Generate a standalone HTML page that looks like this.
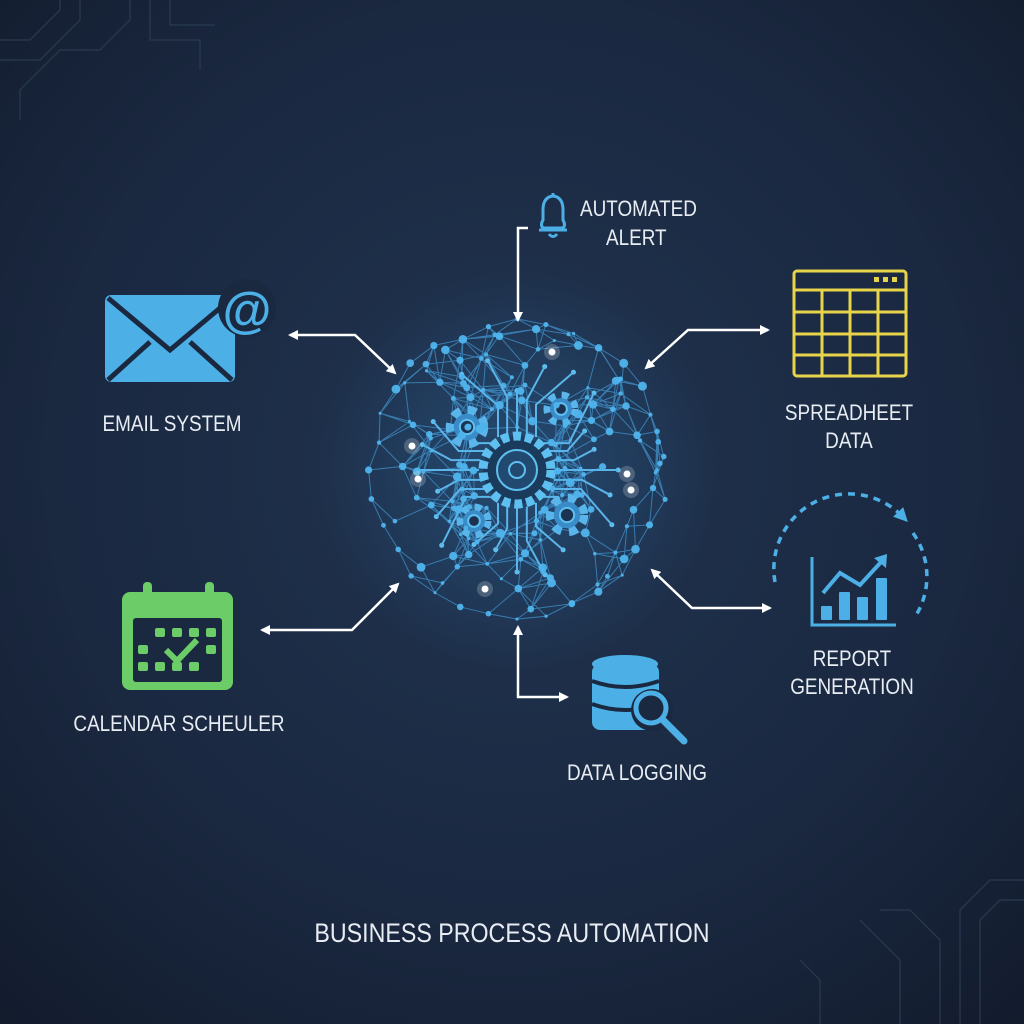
<!DOCTYPE html>
<html><head><meta charset="utf-8">
<style>
html,body{margin:0;padding:0;width:1024px;height:1024px;overflow:hidden;background:#16213a}
svg{display:block}
text{font-family:"Liberation Sans",sans-serif;fill:#e8edf3}
</style></head><body>
<svg id="s" width="1024" height="1024" viewBox="0 0 1024 1024" xmlns="http://www.w3.org/2000/svg">
<defs>
<radialGradient id="bg" cx="50%" cy="45%" r="75%">
<stop offset="0" stop-color="#213450"/>
<stop offset="0.6" stop-color="#1a2840"/>
<stop offset="1" stop-color="#121b2c"/>
</radialGradient>
<radialGradient id="glow" cx="50%" cy="50%" r="50%">
<stop offset="0" stop-color="#2a6fa8" stop-opacity="0.4"/>
<stop offset="1" stop-color="#2a6fa8" stop-opacity="0"/>
</radialGradient>
<marker id="ah" viewBox="0 0 10 10" refX="8" refY="5" markerWidth="4" markerHeight="4" orient="auto-start-reverse">
<path d="M0,0 L10,5 L0,10 z" fill="#fff"/>
</marker>
<marker id="bh" viewBox="0 0 10 10" refX="5" refY="5" markerWidth="4" markerHeight="4" orient="auto">
<path d="M0,0 L10,5 L0,10 z" fill="#4cb0e6"/>
</marker>
</defs>
<rect width="1024" height="1024" fill="url(#bg)"/>
<circle cx="517" cy="470" r="200" fill="url(#glow)"/>
<g stroke="#2b3c52" stroke-width="1.5" fill="none" opacity="0.8">
<path d="M0,40 L30,40 L60,10 L60,0 M0,60 L40,60 L80,20 L80,0 M20,120 L20,90 L60,50 L100,50 L130,20 L130,0 M150,0 L150,40 L200,40 L200,70 M170,0 L170,25 L215,25"/>
<path d="M1024,880 L990,880 L960,910 L960,1024 M1024,900 L1000,900 L980,920 L980,1024 M940,1024 L940,940 L910,910 L880,910 M900,1024 L900,960 L860,920 M820,1024 L820,980 L800,960"/>
</g>
<g id="net"></g>
<g stroke="#fff" stroke-width="2.5" fill="none">
<path d="M290,335 L355,335 L395,373" marker-start="url(#ah)" marker-end="url(#ah)"/>
<path d="M528,228 L518,228 L518,320" marker-end="url(#ah)"/>
<path d="M768,330 L688,330 L646,368" marker-start="url(#ah)" marker-end="url(#ah)"/>
<path d="M262,630 L352,630 L398,584" marker-start="url(#ah)" marker-end="url(#ah)"/>
<path d="M518,627 L518,697 L567,697" marker-start="url(#ah)" marker-end="url(#ah)"/>
<path d="M652,570 L692,608 L770,608" marker-start="url(#ah)" marker-end="url(#ah)"/>
</g>
<g>
<rect x="105" y="295" width="130" height="87" rx="6" fill="#4cb0e6"/>
<path d="M108,298 L170,350 L232,298" stroke="#1a2840" stroke-width="5" fill="none"/>
<path d="M108,380 L150,342 M232,380 L190,342" stroke="#1a2840" stroke-width="5"/>
<circle cx="247" cy="308" r="29" fill="#1a2840"/>
<text x="247" y="327" font-size="50" text-anchor="middle" style="fill:#4cb0e6;font-weight:bold">@</text>
</g>
<text x="172" y="431" font-size="22" text-anchor="middle" transform="translate(172 0) scale(0.86 1) translate(-172 0)">EMAIL SYSTEM</text>
<g fill="#6ccc68">
<rect x="122" y="592" width="111" height="98" rx="8"/>
<rect x="133" y="618" width="89" height="64" rx="3" fill="#1a2840"/>
<rect x="143" y="582" width="9" height="22" rx="4"/><rect x="205" y="582" width="9" height="22" rx="4"/>
<rect x="155" y="628" width="10" height="9" rx="2"/><rect x="172" y="628" width="10" height="9" rx="2"/><rect x="189" y="628" width="10" height="9" rx="2"/><rect x="206" y="628" width="10" height="9" rx="2"/>
<rect x="138" y="645" width="10" height="9" rx="2"/><rect x="206" y="645" width="10" height="9" rx="2"/>
<rect x="138" y="662" width="10" height="9" rx="2"/><rect x="155" y="662" width="10" height="9" rx="2"/><rect x="172" y="662" width="10" height="9" rx="2"/><rect x="189" y="662" width="10" height="9" rx="2"/>
<path d="M166,650 L177,661 L197,640" stroke="#6ccc68" stroke-width="6" fill="none"/>
</g>
<text x="179" y="731" font-size="22" text-anchor="middle" transform="translate(179 0) scale(0.86 1) translate(-179 0)">CALENDAR SCHEULER</text>
<g stroke="#4cb0e6" stroke-width="3" fill="none">
<path d="M543,228 Q540,225 543,220 L543,210 Q543,197 553,196 Q563,197 563,210 L563,220 Q566,225 563,228 Z"/>
<path d="M539,230 L567,230"/><path d="M549,234 Q553,239 557,234"/><path d="M553,193 L553,196"/>
</g>
<text x="580" y="216" font-size="22" transform="translate(580 0) scale(0.86 1) translate(-580 0)">AUTOMATED</text>
<text x="606" y="245" font-size="22" transform="translate(606 0) scale(0.86 1) translate(-606 0)">ALERT</text>
<g stroke="#e8d44a" stroke-width="3" fill="none">
<rect x="794" y="271" width="112" height="105" rx="3"/>
<path d="M794,290 L906,290 M794,312 L906,312 M794,334 L906,334 M794,355 L906,355 M822,290 L822,376 M850,290 L850,376 M878,290 L878,376"/>
</g>
<g fill="#e8d44a"><rect x="874" y="277" width="5" height="5"/><rect x="883" y="277" width="5" height="5"/><rect x="892" y="277" width="5" height="5"/></g>
<text x="849" y="420" font-size="22" text-anchor="middle" transform="translate(849 0) scale(0.86 1) translate(-849 0)">SPREADHEET</text>
<text x="849" y="448" font-size="22" text-anchor="middle" transform="translate(849 0) scale(0.86 1) translate(-849 0)">DATA</text>
<g>
<path d="M775,582 A75,75 0 0 1 903,517" stroke="#4cb0e6" stroke-width="3.5" stroke-dasharray="7,6" fill="none" marker-end="url(#bh)"/>
<path d="M913,533 A75,75 0 0 1 915,617" stroke="#4cb0e6" stroke-width="3.5" stroke-dasharray="7,6" fill="none"/>
<path d="M812,557 L812,625 L896,625" stroke="#4cb0e6" stroke-width="3" fill="none"/>
<g fill="#4cb0e6"><rect x="821" y="606" width="11" height="14" rx="1"/><rect x="839" y="592" width="11" height="28" rx="1"/><rect x="857" y="597" width="11" height="23" rx="1"/><rect x="876" y="578" width="11" height="42" rx="1"/></g>
<path d="M823,593 L840,573 L860,585 L882,561" stroke="#4cb0e6" stroke-width="4" fill="none"/>
<path d="M874,558 L887,554 L886,568 z" fill="#4cb0e6"/>
</g>
<text x="852" y="666" font-size="22" text-anchor="middle" transform="translate(852 0) scale(0.86 1) translate(-852 0)">REPORT</text>
<text x="852" y="694" font-size="22" text-anchor="middle" transform="translate(852 0) scale(0.86 1) translate(-852 0)">GENERATION</text>
<g fill="#4cb0e6">
<rect x="592" y="664" width="67" height="66" rx="8"/>
<ellipse cx="625" cy="664" rx="33" ry="9"/>
<path d="M592,681 Q625,693 659,681 M592,704 Q625,716 659,704" stroke="#1a2840" stroke-width="4" fill="none"/>
<circle cx="652" cy="710" r="21" fill="#1a2840"/>
<circle cx="651" cy="708" r="15" fill="#1a2840" stroke="#4cb0e6" stroke-width="5"/>
<path d="M663,720 L684,741" stroke="#4cb0e6" stroke-width="7" stroke-linecap="round"/>
</g>
<text x="637" y="780" font-size="22" text-anchor="middle" transform="translate(637 0) scale(0.86 1) translate(-637 0)">DATA LOGGING</text>
<text x="512" y="942" font-size="27" text-anchor="middle" transform="translate(512 0) scale(0.86 1) translate(-512 0)">BUSINESS PROCESS AUTOMATION</text>
</svg>
<script>
(function(){
var ns="http://www.w3.org/2000/svg",g=document.getElementById("net");
var seed=7;function r(){seed=(seed*16807)%2147483647;return (seed-1)/2147483646;}
function el(n,a){var e=document.createElementNS(ns,n);for(var k in a)e.setAttribute(k,a[k]);g.appendChild(e);return e;}
var cx=517,cy=470,pts=[];
for(var i=0;i<32;i++){var a=i/32*Math.PI*2,R=140+r()*12;pts.push([cx+Math.cos(a)*R,cy+Math.sin(a)*R]);}
for(var i=0;i<140;i++){var a=r()*Math.PI*2,R=40+r()*108;pts.push([cx+Math.cos(a)*R,cy+Math.sin(a)*R]);}
var lines="";
for(var i=0;i<pts.length;i++){for(var j=i+1;j<pts.length;j++){var dx=pts[i][0]-pts[j][0],dy=pts[i][1]-pts[j][1],d=Math.sqrt(dx*dx+dy*dy);if(d<42&&r()<0.6)lines+="M"+pts[i][0].toFixed(1)+","+pts[i][1].toFixed(1)+"L"+pts[j][0].toFixed(1)+","+pts[j][1].toFixed(1);}}
for(var i=0;i<32;i++){var p=pts[i],q=pts[(i+1)%32];lines+="M"+p[0]+","+p[1]+"L"+q[0]+","+q[1];}
el("path",{d:lines,stroke:"#3f8cc4","stroke-width":"1","fill":"none",opacity:"0.8"});
var tr="";
for(var i=0;i<24;i++){var a=i/24*Math.PI*2,r1=38,r2=70+r()*45;var x1=cx+Math.cos(a)*r1,y1=cy+Math.sin(a)*r1,x2=cx+Math.cos(a)*r2,y2=cy+Math.sin(a)*r2;
if(Math.abs(Math.cos(a))>0.7)tr+="M"+x1+","+y1+"L"+((x1+x2)/2)+","+y1+"L"+x2+","+y2;else tr+="M"+x1+","+y1+"L"+x1+","+((y1+y2)/2)+"L"+x2+","+y2;
el("circle",{cx:x2,cy:y2,r:2.5,fill:"#5ec0f0"});}
el("path",{d:tr,stroke:"#5ab6ea","stroke-width":"2","fill":"none"});
el("circle",{cx:cx,cy:cy,r:34,fill:"#1b3b5c",stroke:"#5ec0f0","stroke-width":"9","stroke-dasharray":"8,4"});
el("circle",{cx:cx,cy:cy,r:20,fill:"#224a70",stroke:"#5ec0f0","stroke-width":"2"});
el("circle",{cx:cx,cy:cy,r:8,fill:"none",stroke:"#5ec0f0","stroke-width":"2"});
function gear(x,y,s){el("circle",{cx:x,cy:y,r:s,fill:"none",stroke:"#5ab6ea","stroke-width":s*0.5,"stroke-dasharray":(s*0.5)+","+(s*0.45)});
el("circle",{cx:x,cy:y,r:s*0.78,fill:"#3a8cc8"});el("circle",{cx:x,cy:y,r:s*0.42,fill:"#1b3350",stroke:"#5ec0f0","stroke-width":"2"});}
gear(467,427,17);gear(561,409,14);gear(474,521,14);gear(567,515,17);
for(var i=0;i<pts.length;i++){var s=1.5+r()*3;el("circle",{cx:pts[i][0],cy:pts[i][1],r:s,fill:"#4fb4ec",opacity:0.95});}
var wh=[[552,352],[412,446],[418,479],[627,474],[631,490],[485,589]];
for(var i=0;i<wh.length;i++){el("circle",{cx:wh[i][0],cy:wh[i][1],r:8,fill:"#fff",opacity:0.2});el("circle",{cx:wh[i][0],cy:wh[i][1],r:3.5,fill:"#fff"});}
})();
</script>
</body></html>
